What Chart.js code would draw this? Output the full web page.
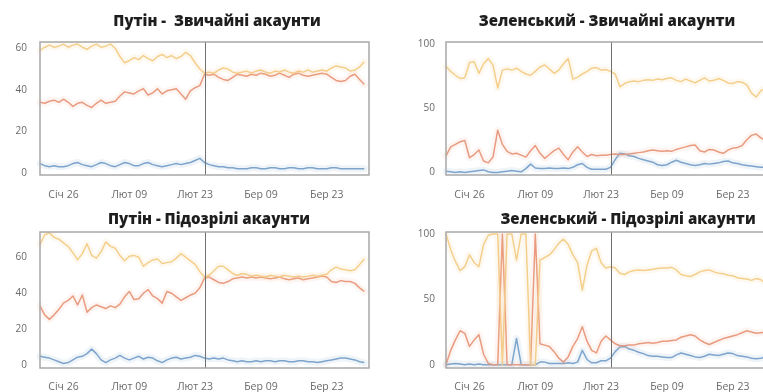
<!DOCTYPE html>
<html>
<head>
<meta charset="utf-8">
<script src="https://cdn.jsdelivr.net/npm/chart.js@4.4.1/dist/chart.umd.min.js"></script>
<style>
  html, body { margin: 0; padding: 0; background: #ffffff; width: 763px; height: 392px; overflow: hidden; }
  .panel { position: absolute; }
  canvas { display: block; }
</style>
</head>
<body>
<div class="panel" style="left:0;top:0"><canvas id="putinRegularChart" width="380" height="200"></canvas></div>
<div class="panel" style="left:406px;top:0"><canvas id="zelenskyRegularChart" width="380" height="200"></canvas></div>
<div class="panel" style="left:0;top:200px"><canvas id="putinSuspiciousChart" width="380" height="192"></canvas></div>
<div class="panel" style="left:406px;top:200px"><canvas id="zelenskySuspiciousChart" width="380" height="192"></canvas></div>
<script>
// Daily share of posts (%) from 21 Jan to 31 Mar 2022, one value per day.
const monthNames = ['Січ', 'Лют', 'Бер', 'Кві'];
const tickLabels = ['Січ 26', 'Лют 09', 'Лют 23', 'Бер 09', 'Бер 23'];
const markerLabel = 'Лют 25';
const putinTicks = [0, 20, 40, 60];
const zelenskyTicks = [0, 50, 100];

const titles = [
  'Путін -  Звичайні акаунти',
  'Зеленський - Звичайні акаунти',
  'Путін - Підозрілі акаунти',
  'Зеленський - Підозрілі акаунти'
];

// Путін, звичайні акаунти
const putinRegularNeutral = [59, 60.5, 61.5, 60.5, 61, 62, 60.5, 61.5, 62, 60.5, 59.5, 61, 62, 60.5, 61, 62, 60, 56, 53, 54,
  55.5, 54.5, 56.5, 55, 54, 56, 57, 55.5, 56.5, 55, 56, 58, 56.5, 53, 50,
  48, 48.5, 48, 49.5, 50.5, 50, 48.5, 48, 48.5, 49, 48, 49, 49.5, 48.5, 48, 49, 48.5, 49.5, 48.5, 48,
  49, 48.5, 49.5, 48.5, 49, 49.5, 49, 50.5, 51.5, 51, 50.5, 49, 49.5, 51, 53.5];
const putinRegularNegative = [34, 33.5, 34.5, 35, 34, 35.5, 34, 32, 33.5, 34, 32.5, 31.5, 33.5, 35, 33.5, 34, 34.5, 37, 39, 38.5,
  38, 39.5, 40.5, 37.5, 38.5, 40.5, 38, 39.5, 40, 40.5, 38, 35.5, 39.5, 41, 42,
  47.5, 47, 47.5, 46, 45, 44.5, 46, 47.5, 47, 46.5, 47.5, 47, 48, 47.5, 46.5, 47, 48, 47, 46, 47.5,
  48, 47, 46.5, 47, 47.5, 48, 47.5, 46, 44.5, 44, 44.5, 46.5, 47.5, 45, 42.5];
const putinRegularPositive = [4.5, 3.5, 3, 3.5, 3, 3, 3.5, 4.5, 5, 4, 3.5, 3, 4, 5, 4.5, 3.5, 3, 4, 5, 4.5,
  3.5, 3.5, 4.5, 5, 4, 3.5, 3, 3.5, 4, 4.5, 4, 4.5, 5, 6, 7,
  5, 4, 3.5, 3, 3, 2.5, 2.5, 2, 2, 2, 2.5, 2.5, 2, 2, 2.5, 2.5, 2, 2, 2.5, 2.5,
  2, 2, 2.5, 2.5, 2, 2, 2, 2.5, 2.5, 2, 2, 2, 2, 2, 2];

// Зеленський, звичайні акаунти
const zelenskyRegularNeutral = [83, 79, 76, 73.5, 74, 86, 86.5, 77.5, 85, 89, 84, 66, 80, 81, 80, 81.5, 79, 77, 76, 79,
  82.5, 84, 81, 77.5, 80, 85, 89, 73, 74.5, 77, 79, 81.5, 82, 80, 80.5,
  79, 77, 67, 69.5, 71, 71.5, 71, 72, 72.5, 72, 73, 72.5, 73.5, 74, 72, 71, 73, 71.5, 70, 72,
  74, 71.5, 72, 73.5, 72, 70, 69.5, 71, 70.5, 68.5, 62, 59, 64, 66, 65];
const zelenskyRegularNegative = [13, 20, 22, 24, 25, 11.5, 14, 17.5, 9, 7.5, 12, 33, 22, 16.5, 14.5, 15, 13.5, 12, 17, 21,
  15, 11, 14, 17, 19, 14, 10, 16, 20, 16, 12.5, 14, 13, 13.5, 13.5,
  14, 14.5, 14, 14, 14.5, 15, 15.5, 16, 17, 17.5, 17, 16.5, 17, 16.5, 18, 19, 20, 21, 21.5, 17,
  16, 18, 17.5, 16, 15, 17.5, 19, 19.5, 21, 25.5, 29, 30, 27, 25, 26];
const zelenskyRegularPositive = [1, 0.5, 0, 0.5, 0, 0.5, 1, 1.5, 2, 0.5, 0, 0, 0.5, 1, 1.5, 1, 0.5, 3, 6.5, 3.5,
  3, 3, 3.5, 3, 3, 3.5, 3, 4, 6, 7, 4, 2.5, 2.5, 2.5, 2.5,
  4, 10, 15, 14.5, 13, 12.5, 11, 10, 9, 8, 6, 5.5, 6, 8, 9.5, 8, 7, 6, 5.5, 6,
  7, 6.5, 7, 7.5, 8.5, 9, 7.5, 7, 6, 5.5, 5, 4.5, 4, 4, 4];

// Путін, підозрілі акаунти
const putinSuspiciousNeutral = [67, 72.5, 73.5, 71, 70, 68, 66, 62.5, 58.5, 62, 67.5, 61, 59.5, 63, 68.5, 66, 65, 61, 58, 60.5,
  61, 60, 55, 57, 58.5, 59, 56.5, 57, 57.5, 59.5, 62, 60, 58, 56, 52,
  49, 50, 52.5, 55, 55, 53, 51, 50, 51, 50.5, 49.5, 50, 49.5, 49, 50, 49.5, 49, 50, 49.5, 49,
  49.5, 49, 49.5, 50, 49.5, 50, 50.5, 53, 54.5, 53.5, 53, 52.5, 53, 56, 59];
const putinSuspiciousNegative = [33, 28, 25.5, 28, 31, 34.5, 36, 38.5, 33.5, 39, 29.5, 32, 33.5, 32.5, 31.5, 33, 32, 34, 38, 41,
  36.5, 37, 40, 42, 38.5, 37, 34.5, 41, 40, 38, 36, 37.5, 39, 40, 43,
  48.5, 49, 47.5, 46, 45.5, 46.5, 48, 48.5, 49, 48.5, 49, 48.5, 49, 48.5, 48, 48.5, 49, 48, 47.5, 48,
  48.5, 47.5, 48, 48.5, 49, 49.5, 49, 46.5, 46, 47, 46.5, 46.5, 45.5, 43, 41];
const putinSuspiciousPositive = [5, 4.5, 4, 3, 2, 1, 1.5, 3, 4.5, 5, 6.5, 9, 6.5, 3, 1.5, 3, 4, 5.5, 4, 3,
  4, 5, 3.5, 4.5, 4, 2.5, 1.5, 3, 4, 4.5, 3.5, 4, 4.5, 5.5, 5,
  4, 3.5, 4, 3.5, 4, 3, 2.5, 2, 2.5, 2, 2, 2.5, 2, 2.5, 2.5, 2, 2.5, 2.5, 2, 2,
  2.5, 2.5, 2, 2, 1.5, 2, 2.5, 3, 3.5, 4, 4, 3.5, 3, 2, 1.5];

// Зеленський, підозрілі акаунти
const zelenskySuspiciousNeutral = [100, 88, 79, 72, 75, 84, 78, 75, 92, 99, 100, 100, 0, 100, 100, 80, 100, 100, 0, 0,
  80, 82, 84, 88, 93, 96, 92, 84, 78, 57, 76, 87, 89, 78, 74,
  75, 74, 70, 69, 71, 72, 72.5, 72, 72.5, 73, 73.5, 74, 74, 74.5, 72.5, 69, 68, 67.5, 69, 71,
  72, 72.5, 71, 70, 69.5, 68.5, 68, 66.5, 66, 65.5, 64.5, 66, 65, 62, 60];
const zelenskySuspiciousNegative = [0, 11, 19, 26, 24, 14, 19, 23, 8, 1, 0, 0, 100, 0, 0, 0, 0, 0, 0, 100,
  16, 15, 14, 10, 5, 2, 6, 14, 20, 29, 18, 11, 9, 18, 22,
  19, 16, 14.5, 14.5, 15, 15, 16, 16.5, 17, 16.5, 17, 18, 18, 18.5, 19, 21, 22, 23, 22, 19,
  17, 15.5, 17, 18.5, 20, 21, 22, 23, 24.5, 26, 25, 24, 24.5, 25, 26];
const zelenskySuspiciousPositive = [0, 0.5, 1, 0.5, 0, 0.5, 0, 0.5, 0, 0, 0, 0, 0, 0, 0, 20, 0, 0, 0, 0,
  2, 2, 1, 1, 1, 1, 1.5, 1, 2, 11, 4, 1.5, 1.5, 3, 3,
  5, 10, 13.5, 14, 12, 11, 9.5, 8.5, 7, 6.5, 6.5, 6, 5.5, 5.5, 7.5, 9, 8, 7, 6, 5.5,
  6.5, 8, 7.5, 7, 8, 9, 8.5, 7, 6.5, 6, 5, 4.5, 5, 6, 6];

// Calendar labels for the x axis: 21 Jan .. 1 Apr 2022
const dayLabels = [];
for (let d = 0; d <= 70; d++) {
  const dt = new Date(2022, 0, 21 + d);
  dayLabels.push(monthNames[dt.getMonth()] + ' ' + String(dt.getDate()).padStart(2, '0'));
}

const seriesColors = {
  neutral: 'rgb(244, 207, 140)',
  negative: 'rgb(233, 155, 128)',
  positive: 'rgb(126, 164, 204)'
};
const haloColors = {
  neutral: 'rgba(244, 207, 140, 0.13)',
  negative: 'rgba(233, 155, 128, 0.10)',
  positive: 'rgba(126, 164, 204, 0.12)'
};

function buildDatasets(series) {
  const keys = ['neutral', 'negative', 'positive'];
  const halos = keys.map(k => ({
    data: series[k], borderColor: haloColors[k], borderWidth: 7,
    pointRadius: 0, tension: 0, fill: false, borderJoinStyle: 'round', borderCapStyle: 'round'
  }));
  const lines = keys.map(k => ({
    data: series[k], borderColor: seriesColors[k], borderWidth: 1.5,
    pointRadius: 0, tension: 0, fill: false, borderJoinStyle: 'round'
  }));
  return halos.concat(lines);
}

const framePlugin = {
  id: 'frame',
  afterDatasetsDraw(chart, args, opts) {
    const { ctx, chartArea: a, scales: { x } } = chart;
    ctx.save();
    const px = Math.round(x.getPixelForValue(dayLabels.indexOf(markerLabel))) + 0.5;
    ctx.strokeStyle = '#707070';
    ctx.lineWidth = 1;
    ctx.beginPath();
    ctx.moveTo(px, a.top);
    ctx.lineTo(px, a.bottom);
    ctx.stroke();
    ctx.strokeStyle = '#a8a8a8';
    ctx.lineWidth = 1.5;
    ctx.strokeRect(a.left, a.top, a.right - a.left, a.bottom - a.top);
    ctx.font = '800 15px "Open Sans"';
    ctx.fillStyle = '#1e1e1e';
    ctx.textAlign = 'center';
    ctx.textBaseline = 'middle';
    ctx.fillText(opts.title, opts.titleX, opts.titleY);
    ctx.restore();
  }
};

function makeChart(id, cfg) {
  return new Chart(document.getElementById(id), {
    type: 'line',
    data: { labels: dayLabels, datasets: buildDatasets(cfg.series) },
    options: {
      responsive: false,
      animation: false,
      devicePixelRatio: 1,
      layout: { padding: { top: cfg.plotTop, right: 11, left: 0, bottom: 0 } },
      plugins: {
        legend: { display: false },
        tooltip: { enabled: false },
        frame: { title: cfg.title, titleX: cfg.titleX, titleY: cfg.titleY }
      },
      scales: {
        x: {
          type: 'category',
          offset: false,
          grid: { display: false, drawTicks: false },
          border: { display: false },
          ticks: {
            autoSkip: false, maxRotation: 0, padding: cfg.xPad, color: '#6a6a6a',
            font: { family: 'Open Sans', size: 10.5 },
            callback: v => dayLabels[v]
          },
          afterBuildTicks: s => { s.ticks = s.ticks.filter(t => tickLabels.includes(dayLabels[t.value])); },
          afterFit: s => { s.height = cfg.xHeight; }
        },
        y: {
          min: cfg.yMin, max: cfg.yMax,
          grid: { display: false, drawTicks: false },
          border: { display: false },
          ticks: { padding: cfg.yPad, color: '#6a6a6a', font: { family: 'Open Sans', size: 10 } },
          afterBuildTicks: s => { s.ticks = cfg.yTicks.map(v => ({ value: v })); },
          afterFit: s => { s.width = 40; }
        }
      }
    },
    plugins: [framePlugin]
  });
}

function drawAll() {
  makeChart('putinRegularChart', {
    title: titles[0], titleX: 217, titleY: 21.5, plotTop: 42, xHeight: 25, xPad: 14, yPad: 13,
    yMin: -1, yMax: 63, yTicks: putinTicks,
    series: { neutral: putinRegularNeutral, negative: putinRegularNegative, positive: putinRegularPositive }
  });
  makeChart('zelenskyRegularChart', {
    title: titles[1], titleX: 201, titleY: 21.5, plotTop: 42, xHeight: 25, xPad: 14, yPad: 11,
    yMin: -2, yMax: 102, yTicks: zelenskyTicks,
    series: { neutral: zelenskyRegularNeutral, negative: zelenskyRegularNegative, positive: zelenskyRegularPositive }
  });
  makeChart('putinSuspiciousChart', {
    title: titles[2], titleX: 209, titleY: 20, plotTop: 32, xHeight: 24, xPad: 13, yPad: 13,
    yMin: -1.5, yMax: 74, yTicks: putinTicks,
    series: { neutral: putinSuspiciousNeutral, negative: putinSuspiciousNegative, positive: putinSuspiciousPositive }
  });
  makeChart('zelenskySuspiciousChart', {
    title: titles[3], titleX: 222, titleY: 20, plotTop: 32, xHeight: 24, xPad: 13, yPad: 11,
    yMin: -2.5, yMax: 101.5, yTicks: zelenskyTicks,
    series: { neutral: zelenskySuspiciousNeutral, negative: zelenskySuspiciousNegative, positive: zelenskySuspiciousPositive }
  });
}

Promise.all([
  document.fonts.load('800 15px "Open Sans"'),
  document.fonts.load('10px "Open Sans"')
]).then(drawAll, drawAll);
</script>
</body>
</html>
